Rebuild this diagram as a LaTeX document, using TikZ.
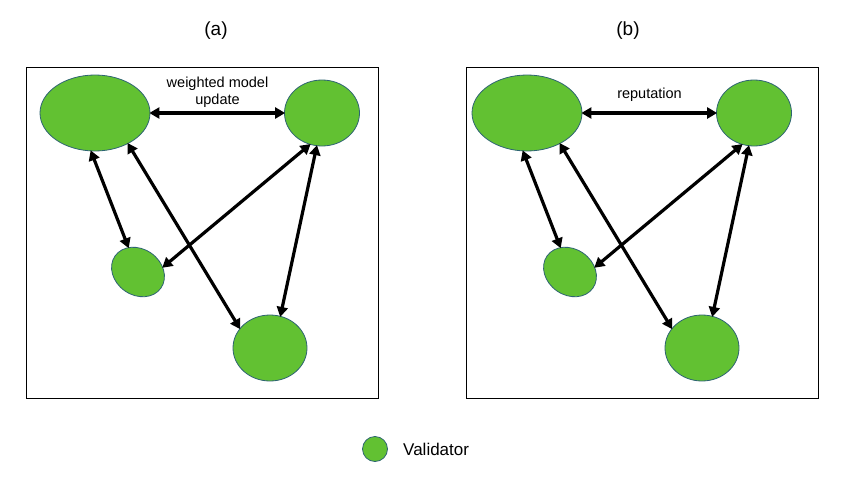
\documentclass[tikz,border=0pt]{standalone}
\usepackage{fontspec}
\setmainfont{Liberation Sans}
\usetikzlibrary{shapes.geometric,arrows.meta}
\definecolor{valfill}{RGB}{98,193,50}
\definecolor{valdraw}{RGB}{46,100,115}
\tikzset{
  val/.style={ellipse, draw=valdraw, line width=0.8pt, fill=valfill, inner sep=0pt},
  biarrow/.style={line width=3.2pt, {Triangle[length=10pt,width=11pt]}-{Triangle[length=10pt,width=11pt]}, shorten <=-1pt, shorten >=-1pt},
  panel/.style={draw=black, line width=0.9pt, fill=none},
  lbl/.style={font=\fontsize{14.5}{17}\selectfont, align=center, inner sep=0pt},
  ttl/.style={font=\fontsize{19}{21}\selectfont, inner sep=0pt}
}
\begin{document}
\begin{tikzpicture}[x=1pt,y=-1pt]
\useasboundingbox[fill=white] (0,0) rectangle (849,482);
% panels
\node[panel, minimum width=352pt, minimum height=331pt, inner sep=0pt] (pa) at (202,232.5) {};
\node[panel, minimum width=352pt, minimum height=331pt, inner sep=0pt] (pb) at (642,232.5) {};
\node[ttl] (ta) at (216,31) {(a)};
\node[ttl] (tb) at (628,31) {(b)};
% panel (a)
\node[val, minimum width=110pt, minimum height=76pt] (a1) at (95,113) {};
\node[val, minimum width=75pt, minimum height=66pt] (a2) at (322,113) {};
\node[val, minimum width=56pt, minimum height=46pt, rotate=-35] (a3) at (138,272) {};
\node[val, minimum width=74pt, minimum height=66pt] (a4) at (270,348) {};
\node[lbl] (la) at (217.5,92) {weighted model\\update};
\draw[biarrow] (a1.east) -- (a2.west);
\draw[biarrow] (a1.-96) -- (a3);
\draw[biarrow] (a1.-43) -- (a4.147);
\draw[biarrow] (a2.-111) -- (a3.46);
\draw[biarrow] (a2.-99) -- (a4.72);
% panel (b)
\begin{scope}[xshift=432pt]
\node[val, minimum width=110pt, minimum height=76pt] (b1) at (95,113) {};
\node[val, minimum width=75pt, minimum height=66pt] (b2) at (322,113) {};
\node[val, minimum width=56pt, minimum height=46pt, rotate=-35] (b3) at (138,272) {};
\node[val, minimum width=74pt, minimum height=66pt] (b4) at (270,348) {};
\node[lbl] (lb) at (217.5,95) {reputation};
\draw[biarrow] (b1.east) -- (b2.west);
\draw[biarrow] (b1.-96) -- (b3);
\draw[biarrow] (b1.-43) -- (b4.147);
\draw[biarrow] (b2.-111) -- (b3.46);
\draw[biarrow] (b2.-99) -- (b4.72);
\end{scope}
% legend
\node[val, minimum width=25pt, minimum height=25pt] (lg) at (375,449) {};
\node[anchor=west, inner sep=0pt, font=\fontsize{17}{20}\selectfont] (lgt) at (403,449) {Validator};
\end{tikzpicture}
\end{document}
